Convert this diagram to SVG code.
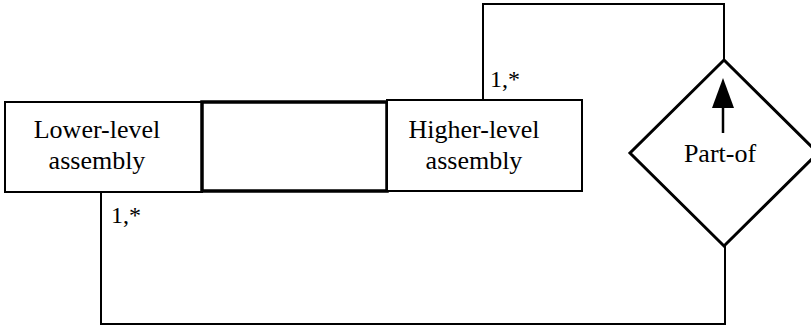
<svg xmlns="http://www.w3.org/2000/svg" width="811" height="329" viewBox="0 0 811 329">
<style>
.box{fill:#fff;stroke:#000;stroke-width:2}
.thick{fill:#fff;stroke:#000;stroke-width:3.5}
.conn{fill:none;stroke:#000;stroke-width:2}
.t{font-size:26px;fill:#000;text-anchor:middle}
.c{font-size:24px;fill:#000}
</style>
<g id="connectors">
<polyline class="conn" points="483,100 483,4 724,4 724,60"/>
<polyline class="conn" points="725,245 725,324 101,324 101,192"/>
</g>
<g font-family="'Liberation Serif', 'Times New Roman', serif">
<g id="lower">
<rect class="box" x="5" y="102" width="197" height="90"/>
<text class="t" x="97" y="138">Lower-level</text>
<text class="t" x="97" y="169">assembly</text>
</g>
<g id="middle">
<rect class="thick" x="202" y="102" width="185" height="89"/>
</g>
<g id="higher">
<rect class="box" x="387" y="100" width="195" height="91"/>
<text class="t" x="474" y="138">Higher-level</text>
<text class="t" x="474" y="169">assembly</text>
</g>
<g id="partof">
<polygon points="724,60 818,153 724,246 630,153" fill="#fff" stroke="#000" stroke-width="3"/>
<line x1="723" y1="133" x2="723" y2="100" stroke="#000" stroke-width="2.5"/>
<polygon points="723,78 734,108 712,108" fill="#000"/>
<text class="t" x="720" y="162">Part-of</text>
</g>
<g id="labels">
<text class="c" x="490" y="87">1,*</text>
<text class="c" x="111" y="223">1,*</text>
</g>
</g>
</svg>
